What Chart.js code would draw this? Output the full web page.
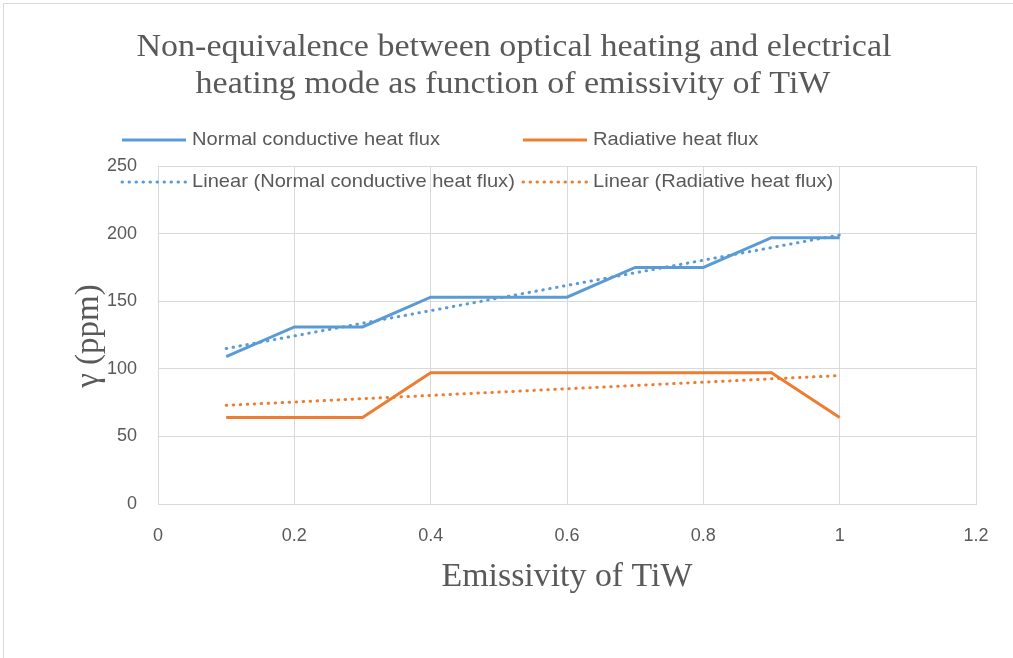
<!DOCTYPE html>
<html><head><meta charset="utf-8">
<script src="https://cdn.jsdelivr.net/npm/chart.js@4/dist/chart.umd.min.js"></script>
<style>html,body{margin:0;padding:0;background:#fff;}#wrap{width:1013px;height:658px;position:relative;}</style>
</head><body><div id="wrap"><canvas id="c" width="1013" height="658"></canvas></div>
<script>
const emissivity = [0.1, 0.2, 0.3, 0.4, 0.5, 0.6, 0.7, 0.8, 0.9, 1.0];
const conductive = [109, 131, 131, 153, 153, 153, 175, 175, 197, 197];
const radiative = [64, 64, 64, 97, 97, 97, 97, 97, 97, 64];
const trendX = [0.1, 1.0];
const conductiveTrend = [115, 199];
const radiativeTrend = [73, 95];
const xTickLabels = ['0', '0.2', '0.4', '0.6', '0.8', '1', '1.2'];
const yTickLabels = ['0', '50', '100', '150', '200', '250'];
const seriesNames = ['Normal conductive heat flux', 'Radiative heat flux',
  'Linear (Normal conductive heat flux)', 'Linear (Radiative heat flux)'];
const titleLines = ['Non-equivalence between optical heating and electrical', 'heating mode as function of emissivity of TiW'];
const xTitle = 'Emissivity of TiW';
const yTitle = 'γ (ppm)';

const BLUE = '#5b9bd5', ORANGE = '#ed7d31', TXT = '#595959';
const pts = (xs, ys) => xs.map((x, i) => ({x: x, y: ys[i]}));
const DOT = [0.5, 6.5];
const SERIF = '"Liberation Serif", "DejaVu Serif", serif';
const SANS = '"Liberation Sans", Arial, sans-serif';

function stretchText(ctx, text, cx, y, sx) {
  ctx.save();
  ctx.translate(cx, y);
  ctx.scale(sx, 1);
  ctx.fillText(text, 0, 0);
  ctx.restore();
}

const decor = {
  id: 'decor',
  beforeDraw(chart) {
    const ctx = chart.ctx;
    ctx.save();
    ctx.fillStyle = '#fff';
    ctx.fillRect(0, 0, chart.width, chart.height);
    ctx.strokeStyle = '#d9d9d9';
    ctx.lineWidth = 1;
    ctx.beginPath();
    ctx.moveTo(3.5, chart.height + 2); ctx.lineTo(3.5, 3.5); ctx.lineTo(chart.width + 2, 3.5);
    ctx.stroke();
    ctx.restore();
  },
  afterDraw(chart) {
    const ctx = chart.ctx;
    ctx.save();
    ctx.fillStyle = TXT;
    ctx.textAlign = 'center';
    ctx.textBaseline = 'alphabetic';
    ctx.font = '31px ' + SERIF;
    const s1 = 755 / ctx.measureText(titleLines[0]).width;
    stretchText(ctx, titleLines[0], 514, 56, s1);
    stretchText(ctx, titleLines[1], 513, 93, s1);
    ctx.font = '33px ' + SERIF;
    const s2 = 251 / ctx.measureText(xTitle).width;
    stretchText(ctx, xTitle, 567, 586, s2);
    ctx.save();
    ctx.translate(98, 336);
    ctx.rotate(-Math.PI / 2);
    ctx.font = '33px ' + SERIF;
    ctx.fillText(yTitle, 0, 0);
    ctx.restore();
    // legend
    const items = [
      {x: 122, y: 140, c: BLUE, dash: [], t: seriesNames[0]},
      {x: 523, y: 140, c: ORANGE, dash: [], t: seriesNames[1]},
      {x: 122, y: 182, c: BLUE, dash: DOT, t: seriesNames[2]},
      {x: 523, y: 182, c: ORANGE, dash: DOT, t: seriesNames[3]},
    ];
    ctx.font = '19px ' + SANS;
    ctx.textAlign = 'left';
    ctx.textBaseline = 'middle';
    const sl = 248 / ctx.measureText(seriesNames[0]).width;
    items.forEach(it => {
      ctx.strokeStyle = it.c;
      ctx.lineWidth = 3;
      ctx.lineCap = it.dash.length ? 'round' : 'butt';
      ctx.setLineDash(it.dash);
      ctx.beginPath();
      ctx.moveTo(it.x, it.y); ctx.lineTo(it.x + 64, it.y);
      ctx.stroke();
      ctx.setLineDash([]);
      ctx.fillStyle = TXT;
      ctx.save();
      ctx.translate(it.x + 70, it.y);
      ctx.scale(sl, 1);
      ctx.fillText(it.t, 0, 0);
      ctx.restore();
    });
    ctx.restore();
  }
};

new Chart(document.getElementById('c'), {
  type: 'scatter',
  data: {
    datasets: [
      {label: seriesNames[0], data: pts(emissivity, conductive), showLine: true, borderColor: BLUE, borderWidth: 3, pointRadius: 0, tension: 0},
      {label: seriesNames[1], data: pts(emissivity, radiative), showLine: true, borderColor: ORANGE, borderWidth: 3, pointRadius: 0, tension: 0},
      {label: seriesNames[2], data: pts(trendX, conductiveTrend), showLine: true, borderColor: BLUE, borderWidth: 3, borderDash: DOT, borderCapStyle: 'round', pointRadius: 0},
      {label: seriesNames[3], data: pts(trendX, radiativeTrend), showLine: true, borderColor: ORANGE, borderWidth: 3, borderDash: DOT, borderCapStyle: 'round', pointRadius: 0},
    ]
  },
  options: {
    responsive: false,
    animation: false,
    devicePixelRatio: 1,
    layout: {padding: {left: 0, right: 37, top: 166, bottom: 0}},
    plugins: {legend: {display: false}, title: {display: false}, tooltip: {enabled: false}},
    scales: {
      x: {
        type: 'linear', min: 0, max: 1.2,
        ticks: {stepSize: 0.2, color: TXT, font: {family: SANS, size: 18}, padding: 21,
          callback: (v, i) => xTickLabels[i]},
        grid: {color: '#d9d9d9', lineWidth: 1, drawTicks: false},
        border: {color: '#d9d9d9'},
        afterFit: s => { s.height = 154; }
      },
      y: {
        type: 'linear', min: 0, max: 250,
        ticks: {stepSize: 50, color: TXT, font: {family: SANS, size: 18}, padding: 21,
          callback: (v, i) => yTickLabels[i]},
        grid: {color: '#d9d9d9', lineWidth: 1, drawTicks: false},
        border: {color: '#d9d9d9'},
        afterFit: s => { s.width = 158; }
      }
    }
  },
  plugins: [decor]
});
</script></body></html>
